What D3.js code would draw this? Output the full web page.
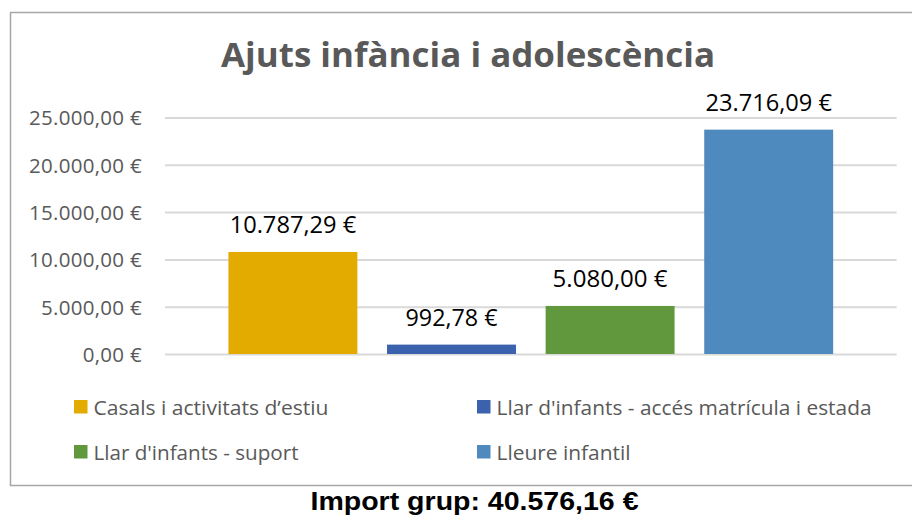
<!DOCTYPE html>
<html>
<head>
<meta charset="utf-8">
<script src="https://cdn.jsdelivr.net/npm/d3@7"></script>
<style>
  html, body { margin: 0; padding: 0; background: #fff; }
  svg { display: block; }
</style>
</head>
<body>
<svg id="chart"></svg>
<script>
const title = 'Ajuts infància i adolescència';
const footer = 'Import grup: 40.576,16 €';
const series = ['Casals i activitats d’estiu', "Llar d'infants - accés matrícula i estada", "Llar d'infants - suport", 'Lleure infantil'];
const values = [10787.29, 992.78, 5080.00, 23716.09];
const colors = ['#E3AA00', '#3B62AD', '#62983D', '#4F8ABE'];
const yTicks = [0, 5000, 10000, 15000, 20000, 25000];

const width = 912, height = 517;
const plot = { left: 165, right: 896.6, top: 117.5, bottom: 354 };
// widths measured on the reference, used to fit text
const legendWidths = [235, 375, 205, 134];

const locale = d3.formatLocale({ decimal: ',', thousands: '.', grouping: [3], currency: ['', '\u00a0€'] });
const fmt = locale.format('$,.2f');

const svg = d3.select('#chart').attr('width', width).attr('height', height);

// chart frame (right edge falls outside the picture)
svg.append('path')
    .attr('d', `M${width + 10},12.5 H10.5 V485.5 H${width + 10}`)
    .attr('fill', 'none')
    .attr('stroke', '#a6a6a6')
    .attr('stroke-width', 1.5);

svg.append('text')
    .attr('x', 468).attr('y', 67)
    .attr('text-anchor', 'middle')
    .attr('font-family', 'Open Sans, sans-serif')
    .attr('font-weight', 700)
    .attr('font-size', 34)
    .attr('fill', '#595959')
    .attr('textLength', 494)
    .attr('lengthAdjust', 'spacingAndGlyphs')
    .text(title);

const x = d3.scaleBand()
    .domain(series)
    .range([plot.left, plot.right])
    .paddingInner(0.187)
    .paddingOuter(0.40);

const y = d3.scaleLinear()
    .domain([0, 25000])
    .range([plot.bottom, plot.top]);

const yAxis = svg.append('g')
    .attr('transform', `translate(${plot.left}, 0)`)
    .call(d3.axisLeft(y).tickValues(yTicks).tickFormat(fmt)
        .tickSize(-(plot.right - plot.left)).tickPadding(23));
yAxis.select('.domain').remove();
yAxis.selectAll('.tick line')
    .attr('stroke', '#d9d9d9')
    .attr('stroke-width', 2);
yAxis.selectAll('.tick text')
    .attr('font-family', 'Open Sans, sans-serif')
    .attr('font-size', 20.5)
    .attr('letter-spacing', 0.3)
    .attr('fill', '#595959')
    .attr('dy', '0.36em');

svg.append('g')
    .selectAll('rect')
    .data(series)
    .enter()
    .append('rect')
    .attr('x', d => x(d))
    .attr('y', (d, i) => y(values[i]))
    .attr('width', x.bandwidth())
    .attr('height', (d, i) => y(0) - y(values[i]))
    .attr('fill', (d, i) => colors[i]);

svg.append('g')
    .selectAll('text')
    .data(series)
    .enter()
    .append('text')
    .attr('x', d => x(d) + x.bandwidth() / 2)
    .attr('y', (d, i) => y(values[i]) - 19)
    .attr('text-anchor', 'middle')
    .attr('font-family', 'Open Sans, sans-serif')
    .attr('font-size', 24)
    .attr('fill', '#000')
    .attr('textLength', (d, i) => fmt(values[i]).length * 11.5)
    .attr('lengthAdjust', 'spacingAndGlyphs')
    .text((d, i) => fmt(values[i]));

// legend, two columns
const legend = svg.append('g')
    .selectAll('g')
    .data(series)
    .enter()
    .append('g')
    .attr('transform', (d, i) => `translate(${i % 2 ? 477 : 74}, ${i < 2 ? 400 : 445})`);
legend.append('rect')
    .attr('width', 13.5)
    .attr('height', 13.5)
    .attr('fill', (d, i) => colors[i]);
legend.append('text')
    .attr('x', 19.5)
    .attr('y', 14.5)
    .attr('font-family', 'Open Sans, sans-serif')
    .attr('font-size', 20.5)
    .attr('fill', '#595959')
    .attr('textLength', (d, i) => legendWidths[i])
    .attr('lengthAdjust', 'spacingAndGlyphs')
    .text(d => d);

svg.append('text')
    .attr('x', 474.5).attr('y', 509.5)
    .attr('text-anchor', 'middle')
    .attr('font-family', 'Liberation Sans, Arial, sans-serif')
    .attr('font-weight', 700)
    .attr('font-size', 25.5)
    .attr('fill', '#000')
    .attr('textLength', 328)
    .attr('lengthAdjust', 'spacingAndGlyphs')
    .text(footer);
</script>
</body>
</html>
